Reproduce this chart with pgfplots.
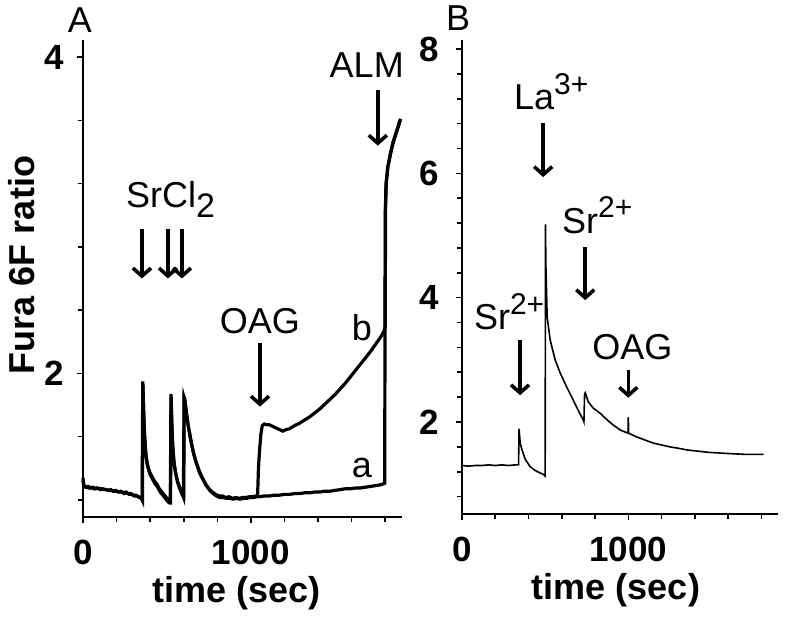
\documentclass[border=0pt]{standalone}
\usepackage{pgfplots}
\pgfplotsset{compat=1.18}
\usepackage{fontspec}
\setmainfont{Liberation Sans}
\usetikzlibrary{arrows.meta}
\newcommand\tsup[1]{\raisebox{0.42em}{\fontsize{15}{15}\selectfont #1}}
\newcommand\tsub[1]{\raisebox{-0.28em}{\fontsize{17}{17}\selectfont #1}}
\tikzset{
  arr/.style={line width=1.8pt, -{Straight Barb[length=4pt,width=9pt,line width=1.8pt]}},
  ann/.style={font=\fontsize{18}{19}\selectfont},
}
\begin{document}
\begin{tikzpicture}
\path[use as bounding box] (0,0) rectangle (392.5pt,309.5pt);
\pgfplotsset{
  panel/.style={scale only axis, axis x line*=bottom, axis y line*=left, clip=false,
    tick align=outside, major tick length=3pt, minor tick length=2.5pt,
    every tick/.style={black, line width=0.8pt}, axis line style={line width=0.9pt},
    ticklabel style={font=\fontsize{17.5}{18}\selectfont\bfseries},
    xmin=0, xmax=1900, xtick={0,1000}, xticklabels={0,1000},
    minor xtick={200,400,600,800,1200,1400,1600,1800},
    xticklabel style={yshift=-5pt}},
}
% ---------------- Panel A ----------------
\begin{axis}[panel, at={(41.5pt,51pt)}, anchor=south west, width=159.5pt, height=238.5pt,
  ymin=1.092, ymax=4.108, ytick={2,4}, yticklabels={2,4},
  minor ytick={1.2,1.6,2.4,2.8,3.2,3.6}, yticklabel style={xshift=-3pt}]
% trace a
\addplot[black, line width=1.6pt] coordinates {
(0,1.34)(4,1.29)(15,1.28)(30,1.285)(45,1.275)(60,1.28)(75,1.27)(90,1.275)(105,1.265)(120,1.27)
(135,1.265)(150,1.26)(165,1.265)(180,1.255)(195,1.26)(210,1.25)(225,1.255)(240,1.245)(255,1.25)
(270,1.24)(285,1.24)(300,1.23)(315,1.23)(330,1.22)(345,1.215)(352,1.20)(356,1.95)(360,1.80)
(366,1.62)(373,1.50)(382,1.43)(395,1.38)(410,1.35)(425,1.32)(440,1.30)(455,1.27)(470,1.25)
(485,1.23)(500,1.21)(512,1.19)(520,1.19)(524,1.87)(528,1.70)(533,1.55)(540,1.45)(550,1.38)
(562,1.32)(575,1.28)(588,1.25)(598,1.22)(602,1.85)(606,1.84)(615,1.76)(625,1.68)(640,1.59)
(655,1.51)(670,1.45)(690,1.39)(710,1.34)(730,1.30)(750,1.27)(770,1.25)(790,1.235)(810,1.225)
(830,1.225)(850,1.215)(870,1.22)(890,1.21)(910,1.215)(930,1.21)(950,1.215)(970,1.215)(990,1.22)
(1010,1.22)(1030,1.225)(1050,1.22)(1080,1.225)(1110,1.225)(1140,1.23)(1170,1.23)(1200,1.235)
(1230,1.235)(1260,1.24)(1290,1.24)(1320,1.245)(1350,1.245)(1380,1.25)(1410,1.25)(1440,1.255)
(1470,1.255)(1500,1.26)(1530,1.265)(1560,1.27)(1590,1.27)(1620,1.275)(1650,1.275)(1680,1.28)
(1710,1.285)(1740,1.29)(1770,1.295)(1797,1.305)(1800,3.00)(1805,3.20)(1815,3.30)(1830,3.38)
(1845,3.45)(1860,3.50)(1875,3.55)(1890,3.60)};
% trace b
\addplot[black, line width=1.6pt] coordinates {
(0,1.32)(8,1.285)(20,1.28)(35,1.275)(50,1.28)(65,1.27)(80,1.275)(95,1.27)(110,1.27)(125,1.265)
(140,1.265)(155,1.26)(170,1.26)(185,1.255)(200,1.255)(215,1.25)(230,1.25)(245,1.24)(260,1.245)
(275,1.235)(290,1.235)(305,1.225)(320,1.225)(335,1.215)(350,1.21)(354,1.20)(357,1.93)(361,1.76)
(368,1.58)(376,1.47)(386,1.41)(400,1.36)(415,1.33)(430,1.30)(445,1.28)(460,1.25)(475,1.23)
(490,1.21)(505,1.19)(516,1.18)(521,1.18)(525,1.85)(530,1.66)(536,1.52)(544,1.42)(555,1.35)
(567,1.30)(580,1.26)(592,1.23)(600,1.22)(603,1.84)(608,1.82)(618,1.73)(630,1.65)(645,1.56)
(660,1.49)(676,1.43)(695,1.37)(715,1.33)(735,1.29)(755,1.26)(775,1.24)(795,1.225)(815,1.215)
(835,1.215)(855,1.21)(875,1.21)(895,1.205)(915,1.21)(935,1.205)(955,1.21)(975,1.21)(995,1.215)
(1015,1.215)(1035,1.22)(1040,1.23)(1045,1.40)(1052,1.52)(1060,1.62)(1068,1.67)(1080,1.68)
(1095,1.675)(1110,1.675)(1130,1.665)(1150,1.655)(1170,1.645)(1190,1.635)(1210,1.645)(1230,1.65)
(1260,1.67)(1290,1.685)(1320,1.705)(1350,1.725)(1380,1.75)(1410,1.775)(1440,1.805)(1470,1.835)
(1500,1.865)(1530,1.90)(1560,1.935)(1590,1.975)(1620,2.015)(1650,2.055)(1680,2.095)(1710,2.135)
(1740,2.18)(1770,2.225)(1795,2.27)(1800,2.30)(1802,3.05)(1806,3.20)(1816,3.31)(1831,3.39)
(1846,3.46)(1861,3.51)(1876,3.56)(1891,3.61)};
% annotations A
\node[ann, anchor=base west] at (axis cs:215,3.05) {SrCl\tsub{2}};
\draw[arr] (axis cs:351,2.91) -- (axis cs:351,2.60);
\draw[arr] (axis cs:506,2.91) -- (axis cs:506,2.60);
\draw[arr] (axis cs:589,2.91) -- (axis cs:589,2.60);
\node[ann] at (axis cs:1054,2.33) {OAG};
\draw[arr] (axis cs:1054,2.19) -- (axis cs:1054,1.79);
\node[ann] at (axis cs:1690,3.95) {ALM};
\draw[arr] (axis cs:1756,3.79) -- (axis cs:1756,3.44);
\node[ann] at (axis cs:1661,1.40) {a};
\node[ann] at (axis cs:1661,2.29) {b};
\node[ann] at (axis cs:-18,4.235) {A};
\end{axis}
% ---------------- Panel B ----------------
\begin{axis}[panel, at={(231pt,52.5pt)}, anchor=south west, width=158pt, height=237pt,
  ymin=0.52, ymax=8.145, ytick={2,4,6,8}, yticklabels={2,4,6,8},
  minor ytick={0.8,1.2,1.6,2.4,2.8,3.2,3.6,4.4,4.8,5.2,5.6,6.4,6.8,7.2,7.6},
  yticklabel style={xshift=-5pt}]
\addplot[black, line width=0.8pt] coordinates {
(0,1.30)(40,1.29)(80,1.30)(120,1.30)(160,1.31)(200,1.30)(240,1.31)(280,1.30)(320,1.31)
(340,1.31)(343,1.89)(350,1.66)(361,1.55)(380,1.40)(410,1.28)(440,1.22)(470,1.18)(488,1.16)
(500,1.13)(502,5.18)(504,4.56)(512,3.69)(530,3.32)(560,3.00)(590,2.79)(630,2.56)(669,2.35)
(700,2.18)(729,2.03)(733,2.00)(737,2.45)(741,2.47)(760,2.32)(790,2.22)(831,2.14)(870,2.04)
(910,1.95)(952,1.87)(998,1.82)(1000,2.08)(1002,1.82)(1050,1.76)(1100,1.71)(1151,1.66)
(1200,1.63)(1250,1.60)(1295,1.58)(1355,1.55)(1420,1.53)(1490,1.51)(1554,1.50)(1620,1.49)
(1700,1.48)(1760,1.48)(1813,1.48)};
\node[ann, anchor=base west] at (axis cs:271,7.02) {La\tsup{3+}};
\draw[arr] (axis cs:488,6.81) -- (axis cs:488,5.94);
\node[ann, anchor=base west] at (axis cs:560,5.04) {Sr\tsup{2+}};
\draw[arr] (axis cs:741,4.81) -- (axis cs:741,3.96);
\node[ann, anchor=base west] at (axis cs:30,3.48) {Sr\tsup{2+}};
\draw[arr] (axis cs:349,3.32) -- (axis cs:349,2.43);
\node[ann, anchor=base] at (axis cs:1024,3.0) {OAG};
\draw[arr] (axis cs:1000,2.84) -- (axis cs:1000,2.39);
\node[ann] at (axis cs:-24,8.50) {B};
\end{axis}
% axis titles
\node[font=\fontsize{18}{19}\selectfont\bfseries] at (118.5pt,13pt) {time (sec)};
\node[font=\fontsize{18}{19}\selectfont\bfseries] at (308pt,14.5pt) {time (sec)};
\node[font=\fontsize{18}{19}\selectfont\bfseries, rotate=90] at (11pt,177pt) {Fura 6F ratio};
\end{tikzpicture}
\end{document}
